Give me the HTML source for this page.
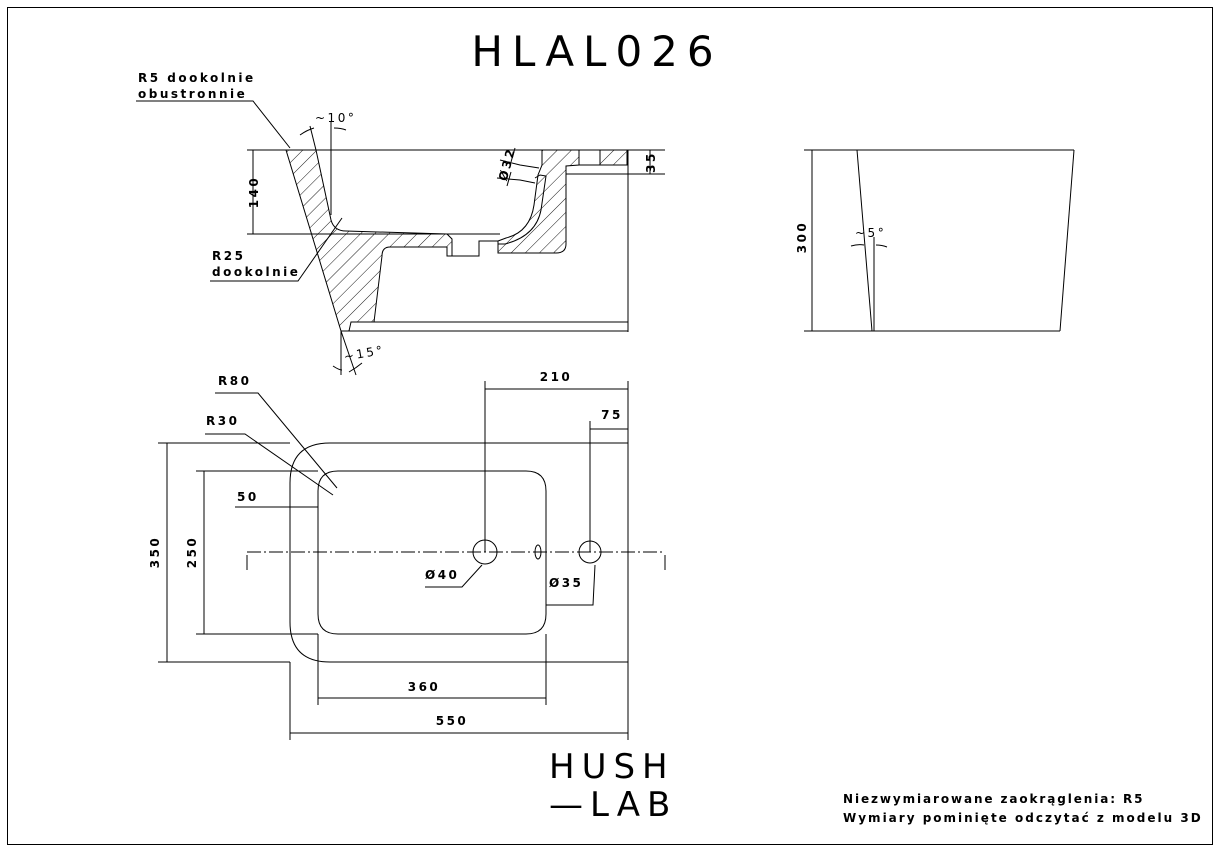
<!DOCTYPE html>
<html><head><meta charset="utf-8"><style>
html,body{margin:0;padding:0;background:#fff}
svg{display:block}
text{font-family:"DejaVu Sans","Liberation Sans",sans-serif;fill:#000}
.t{font-size:12px;font-weight:bold;letter-spacing:2.5px}
</style></head><body>
<svg width="1219" height="851" viewBox="0 0 1219 851" xmlns="http://www.w3.org/2000/svg">
<defs>
<pattern id="h" patternUnits="userSpaceOnUse" width="10" height="10" patternTransform="rotate(45)">
<line x1="0" y1="0" x2="0" y2="10" stroke="#000" stroke-width="0.9"/>
</pattern>
</defs>
<rect x="7.5" y="7.5" width="1205" height="837" fill="none" stroke="#000" stroke-width="1"/>
<text x="597" y="66" font-size="42" text-anchor="middle" style="font-family:'DejaVu Sans',sans-serif;letter-spacing:9px">HLAL026</text>

<g stroke="#000" stroke-width="1" fill="none">
<line x1="247" y1="150" x2="665" y2="150"/>
<line x1="247" y1="234" x2="500" y2="234"/>
<line x1="253" y1="150" x2="253" y2="234"/>
<line x1="566" y1="174" x2="665" y2="174"/>
<line x1="650" y1="150" x2="650" y2="174"/>
<line x1="628" y1="150" x2="628" y2="332"/>
<path d="M286,150 L316,150 L331,220 Q334,231 346,231 L447,234 L452,239 L452,256 L447,256 L447,247 L390,247 Q382,247 382,256 L374,322 L351,322 L349,331 L341,331 Z" fill="url(#h)"/>
<path d="M542,150 L579,150 L579,165 L566,166 L566,244 Q566,253 556,253 L498,253 L498,241 L506,238 Q530,232 534,205 L538,175 L542,165 Z" fill="url(#h)"/>
<rect x="600" y="150" width="27" height="15" fill="url(#h)"/>
<path d="M579,165 L600,165"/>
<path d="M452,256 L479,256 L479,241 L498,241"/>
<path d="M535,178 L540,175 L546,176 L541,210 Q536,236 505,244 L498,244"/>
<path d="M351,322 L628,322 M349,331 L628,331"/>
<line x1="331" y1="122" x2="331" y2="215"/>
<line x1="310" y1="126" x2="316" y2="150"/>
<path d="M300,135 Q307,130 314,128 M334,128 Q341,128 346,130"/>
<line x1="341" y1="331" x2="341" y2="375"/>
<line x1="341" y1="331" x2="356" y2="375"/>
<path d="M333,366 Q339,370 342,370 M349,372 Q356,368 362,363"/>
<path d="M136,101 L253,101 L290,148"/>
<path d="M210,281 L298,281 L342,218"/>
<path d="M500,160 L520,165 L539,168 M497,178 L520,180 L535,183"/>
<line x1="515" y1="148" x2="511" y2="162"/>
<line x1="511" y1="172" x2="507" y2="186"/>

<line x1="804" y1="150" x2="1074" y2="150"/>
<line x1="804" y1="331" x2="1060" y2="331"/>
<line x1="857" y1="150" x2="872" y2="331"/>
<line x1="874" y1="237" x2="874" y2="331"/>
<line x1="1074" y1="150" x2="1060" y2="331"/>
<line x1="812" y1="150" x2="812" y2="331"/>
<path d="M851,246 Q858,244 864,245 M876,245 Q882,245 887,247"/>

<path d="M330,443 L628,443 L628,662 L330,662 Q290,662 290,622 L290,483 Q290,443 330,443 Z"/>
<path d="M338,471 L526,471 Q546,471 546,491 L546,614 Q546,634 526,634 L338,634 Q318,634 318,614 L318,491 Q318,471 338,471 Z"/>
<line x1="158" y1="443" x2="290" y2="443"/>
<line x1="158" y1="662" x2="290" y2="662"/>
<line x1="167" y1="443" x2="167" y2="662"/>
<line x1="196" y1="471" x2="318" y2="471"/>
<line x1="196" y1="634" x2="318" y2="634"/>
<line x1="204" y1="471" x2="204" y2="634"/>
<line x1="235" y1="507" x2="318" y2="507"/>
<line x1="318" y1="634" x2="318" y2="705"/>
<line x1="546" y1="634" x2="546" y2="705"/>
<line x1="318" y1="698" x2="546" y2="698"/>
<line x1="290" y1="662" x2="290" y2="740"/>
<line x1="628" y1="381" x2="628" y2="740"/>
<line x1="290" y1="733" x2="628" y2="733"/>
<line x1="485" y1="381" x2="485" y2="552"/>
<line x1="485" y1="389" x2="628" y2="389"/>
<line x1="590" y1="421" x2="590" y2="552"/>
<line x1="590" y1="429" x2="628" y2="429"/>
<line x1="247" y1="552" x2="665" y2="552" stroke-dasharray="14,3,2,3"/>
<line x1="247" y1="555" x2="247" y2="570"/>
<line x1="665" y1="555" x2="665" y2="570"/>
<circle cx="485" cy="552" r="12"/>
<circle cx="590" cy="552" r="11"/>
<ellipse cx="538" cy="552" rx="3" ry="7"/>
<path d="M215,393 L258,393 L337,488"/>
<path d="M205,434 L245,434 L333,495"/>
<path d="M425,587 L462,587 L482,565"/>
<path d="M546,605 L593,605 L595,565"/>
</g>

<g class="t">
<text x="138" y="82" class="t">R5 dookolnie</text>
<text x="138" y="98" class="t">obustronnie</text>
<text x="212" y="260" class="t">R25</text>
<text x="212" y="276" class="t">dookolnie</text>
<text x="315" y="122" class="t" style="font-weight:normal">~10°</text>
<text x="344" y="360" class="t" style="font-weight:normal" transform="rotate(-10 349 357)">~15°</text>
<text x="258" y="192" class="t" transform="rotate(-90 258 192)" text-anchor="middle">140</text>
<text x="655" y="162" class="t" transform="rotate(-90 655 162)" text-anchor="middle">35</text>
<text x="511" y="165" class="t" transform="rotate(-75 511 165)" text-anchor="middle">Ø32</text>
<text x="806" y="237" class="t" transform="rotate(-90 806 237)" text-anchor="middle">300</text>
<text x="855" y="237" class="t" style="font-weight:normal">~5°</text>
<text x="218" y="385" class="t">R80</text>
<text x="206" y="425" class="t">R30</text>
<text x="237" y="501" class="t">50</text>
<text x="159" y="552" class="t" transform="rotate(-90 159 552)" text-anchor="middle">350</text>
<text x="196" y="552" class="t" transform="rotate(-90 196 552)" text-anchor="middle">250</text>
<text x="424" y="691" class="t" text-anchor="middle">360</text>
<text x="452" y="725" class="t" text-anchor="middle">550</text>
<text x="556" y="381" class="t" text-anchor="middle">210</text>
<text x="612" y="419" class="t" text-anchor="middle">75</text>
<text x="425" y="579" class="t">Ø40</text>
<text x="549" y="587" class="t">Ø35</text>
<text x="843" y="803" class="t" style="letter-spacing:1.9px">Niezwymiarowane zaokrąglenia: R5</text>
<text x="843" y="822" class="t" style="letter-spacing:2.0px">Wymiary pominięte odczytać z modelu 3D</text>
</g>
<text x="549" y="778" font-size="34" style="letter-spacing:7px">HUSH</text>
<text x="549" y="816" font-size="34" style="letter-spacing:7px">—LAB</text>
</svg>
</body></html>
